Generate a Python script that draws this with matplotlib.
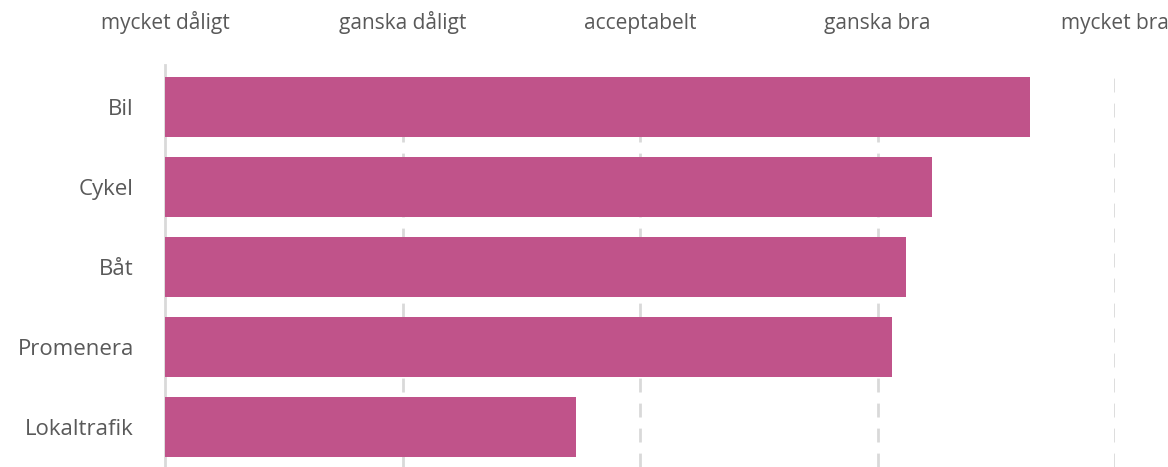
import matplotlib
matplotlib.use("Agg")
import matplotlib.pyplot as plt

categories = ["Bil", "Cykel", "Båt", "Promenera", "Lokaltrafik"]
values = [4.64, 4.23, 4.12, 4.06, 2.73]
scale_ticks = [1, 2, 3, 4, 5]
scale_labels = ["mycket dåligt", "ganska dåligt", "acceptabelt", "ganska bra", "mycket bra"]

plt.rcParams['font.family'] = ['Open Sans', 'DejaVu Sans']

fig = plt.figure(figsize=(11.68, 4.67), dpi=100)
ax = fig.add_axes([165/1168, 0, (1115-165)/1168, 400/467])

base = 1
ax.barh(range(len(categories)), [v - base for v in values], left=base,
        height=0.76, color="#C0538A", zorder=3)

ax.set_xlim(1, 5)
ax.set_ylim(len(categories) - 0.5, -0.5)
ax.set_yticks(range(len(categories)))
ax.set_yticklabels(categories)
ax.set_xticks(scale_ticks)
ax.set_xticklabels(scale_labels)
ax.xaxis.tick_top()
ax.tick_params(axis='x', length=0, pad=23.5, labelsize=15, labelcolor="#595959")
ax.tick_params(axis='y', length=0, pad=22.5, labelsize=16, labelcolor="#595959")

for x in scale_ticks[1:]:
    ax.axvline(x, color="#D9D9D9", lw=2, ls=(0, (5, 4)), zorder=1)

for s in ["top", "right", "bottom"]:
    ax.spines[s].set_visible(False)
ax.spines["left"].set_color("#D9D9D9")
ax.spines["left"].set_linewidth(2)
ax.spines["left"].set_bounds(len(categories) - 0.5, -0.53)

fig.savefig("out.png", dpi=100)
